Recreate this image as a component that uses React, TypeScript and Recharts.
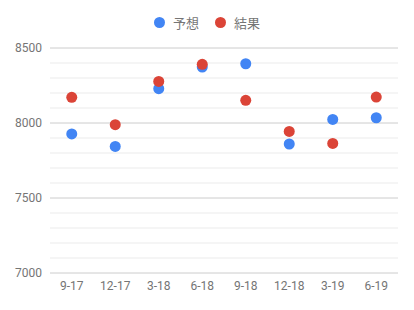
import { ComposedChart, Scatter, XAxis, YAxis, CartesianGrid, Legend, ReferenceLine } from "recharts";

const quarters = ["9-17", "12-17", "3-18", "6-18", "9-18", "12-18", "3-19", "6-19"];
const forecast = [7927, 7844, 8229, 8373, 8395, 7860, 8024, 8035];
const actual = [8171, 7989, 8277, 8391, 8151, 7944, 7864, 8173];
const majorTicks = [7000, 7500, 8000, 8500];
const minorTicks = [7100, 7200, 7300, 7400, 7600, 7700, 7800, 7900, 8100, 8200, 8300, 8400];

const series = [
  { key: "forecast", name: "予想", color: "#4285f4" },
  { key: "actual", name: "結果", color: "#db4437" },
];

const data = quarters.map((q, i) => ({ q, forecast: forecast[i], actual: actual[i] }));

function LegendBox() {
  return (
    <div style={{ display: "flex", justifyContent: "center", height: 36, alignItems: "center" }}>
      {series.map((s) => (
        <div key={s.key} style={{ display: "flex", alignItems: "center", margin: "0 8px" }}>
          <span style={{ width: 11, height: 11, borderRadius: "50%", background: s.color, display: "inline-block" }} />
          <span style={{ marginLeft: 8, fontSize: 13, color: "#757575" }}>{s.name}</span>
        </div>
      ))}
    </div>
  );
}

export default function App() {
  return (
    <div style={{ position: "absolute", left: 0, top: 0, width: 414, height: 310, background: "#fff", fontFamily: "Roboto, 'Noto Sans CJK JP', sans-serif" }}>
      <ComposedChart width={414} height={310} data={data} margin={{ top: 12, right: 16, bottom: 0, left: 0 }}>
        <Legend verticalAlign="top" wrapperStyle={{ top: 4, left: 0, width: 414 }} content={() => <LegendBox />} />
        {minorTicks.map((v) => (
          <ReferenceLine key={v} y={v} stroke="#ebebeb" />
        ))}
        <CartesianGrid vertical={false} stroke="#cccccc" />
        <XAxis
          dataKey="q"
          type="category"
          scale="band"
          axisLine={false}
          tickLine={false}
          tick={{ fill: "#757575", fontSize: 12 }}
          height={37}
        />
        <YAxis
          domain={[7000, 8500]}
          ticks={majorTicks}
          axisLine={false}
          tickLine={false}
          tick={{ fill: "#757575", fontSize: 12 }}
          width={50}
        />
        {series.map((s) => (
          <Scatter key={s.key} dataKey={s.key} name={s.name} fill={s.color} isAnimationActive={false} shape={(p: any) => <circle cx={p.cx} cy={p.cy} r={5.5} fill={s.color} />} />
        ))}
      </ComposedChart>
    </div>
  );
}
